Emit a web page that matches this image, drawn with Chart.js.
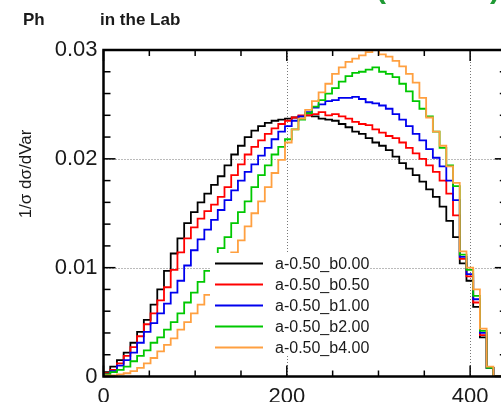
<!DOCTYPE html>
<html>
<head>
<meta charset="utf-8">
<script src="https://cdn.jsdelivr.net/npm/chart.js@4.4.1/dist/chart.umd.min.js"></script>
<style>
  html, body { margin: 0; padding: 0; background: #fff; overflow: hidden; }
  canvas { display: block; }
</style>
</head>
<body>
<canvas id="histChart" width="520" height="402"></canvas>
<script>
// histogram binning (60 bins over 0..440)
const binCount = 60;
const xMin = 0;
const xMax = 440;
const yMax = 0.03;

// tick settings
const xTickValues = [0, 200, 400];
const yTickValues = [0, 0.01, 0.02, 0.03];
const xMajorStep = 200;
const xMinorStep = 50;
const yMajorStep = 0.01;
const yMinorStep = 0.002;

const seriesLabels = ["a-0.50_b0.00", "a-0.50_b0.50", "a-0.50_b1.00", "a-0.50_b2.00", "a-0.50_b4.00"];
const seriesColors = ["#000000", "#ff0000", "#0000ee", "#00c800", "#ffa040"];

// bin contents
const b000 = [
  0.0001, 0.0004, 0.0009, 0.0015, 0.0022, 0.0031, 0.0041, 0.0052, 0.0066, 0.0080,
  0.0097, 0.0113, 0.0127, 0.0141, 0.0151, 0.0160, 0.0168, 0.0176, 0.0184, 0.0194,
  0.0204, 0.0212, 0.0220, 0.0226, 0.0230, 0.0233, 0.0235, 0.0236, 0.0237, 0.0238,
  0.0239, 0.0240, 0.0239, 0.0237, 0.0236, 0.0235, 0.0232, 0.0229, 0.0225, 0.0223,
  0.0219, 0.0215, 0.0212, 0.0208, 0.0202, 0.0196, 0.0191, 0.0185, 0.0179, 0.0172,
  0.0165, 0.0156, 0.0143, 0.0128, 0.0104, 0.0088, 0.0064, 0.0036, 0.0008, 0.0000
];
const b050 = [
  0.0001, 0.0003, 0.0006, 0.0012, 0.0019, 0.0027, 0.0037, 0.0048, 0.0058, 0.0070,
  0.0082, 0.0098, 0.0114, 0.0127, 0.0137, 0.0145, 0.0152, 0.0158, 0.0165, 0.0174,
  0.0185, 0.0195, 0.0204, 0.0211, 0.0217, 0.0223, 0.0228, 0.0232, 0.0235, 0.0238,
  0.0240, 0.0240, 0.0241, 0.0243, 0.0240, 0.0241, 0.0239, 0.0237, 0.0234, 0.0232,
  0.0231, 0.0227, 0.0224, 0.0221, 0.0219, 0.0215, 0.0210, 0.0205, 0.0200, 0.0194,
  0.0188, 0.0180, 0.0168, 0.0148, 0.0108, 0.0092, 0.0068, 0.0038, 0.0008, 0.0000
];
const b100 = [
  0.0000, 0.0002, 0.0005, 0.0010, 0.0015, 0.0022, 0.0031, 0.0041, 0.0049, 0.0058,
  0.0067, 0.0077, 0.0088, 0.0102, 0.0116, 0.0126, 0.0135, 0.0144, 0.0153, 0.0162,
  0.0171, 0.0180, 0.0188, 0.0195, 0.0203, 0.0210, 0.0218, 0.0225, 0.0230, 0.0235,
  0.0239, 0.0243, 0.0247, 0.0250, 0.0253, 0.0254, 0.0256, 0.0256, 0.0257, 0.0255,
  0.0252, 0.0251, 0.0249, 0.0246, 0.0241, 0.0236, 0.0230, 0.0223, 0.0217, 0.0209,
  0.0201, 0.0193, 0.0180, 0.0162, 0.0110, 0.0094, 0.0071, 0.0040, 0.0008, 0.0000
];
const b200 = [
  0.0000, 0.0002, 0.0004, 0.0006, 0.0009, 0.0014, 0.0019, 0.0024, 0.0031, 0.0036,
  0.0043, 0.0050, 0.0058, 0.0068, 0.0077, 0.0087, 0.0097, 0.0107, 0.0118, 0.0128,
  0.0141, 0.0151, 0.0161, 0.0174, 0.0185, 0.0194, 0.0204, 0.0211, 0.0218, 0.0227,
  0.0236, 0.0242, 0.0248, 0.0254, 0.0260, 0.0265, 0.0271, 0.0276, 0.0279, 0.0280,
  0.0282, 0.0284, 0.0280, 0.0278, 0.0275, 0.0269, 0.0262, 0.0253, 0.0246, 0.0239,
  0.0225, 0.0210, 0.0194, 0.0175, 0.0112, 0.0098, 0.0074, 0.0042, 0.0008, 0.0000
];
const b400 = [
  0.0000, 0.0001, 0.0001, 0.0002, 0.0003, 0.0005, 0.0008, 0.0012, 0.0017, 0.0023,
  0.0029, 0.0035, 0.0043, 0.0050, 0.0058, 0.0066, 0.0075, 0.0084, 0.0094, 0.0104,
  0.0114, 0.0125, 0.0138, 0.0150, 0.0161, 0.0174, 0.0187, 0.0199, 0.0215, 0.0227,
  0.0237, 0.0245, 0.0253, 0.0261, 0.0269, 0.0278, 0.0284, 0.0289, 0.0292, 0.0295,
  0.0298, 0.0300, 0.0296, 0.0294, 0.0290, 0.0285, 0.0278, 0.0270, 0.0256, 0.0238,
  0.0225, 0.0212, 0.0193, 0.0178, 0.0115, 0.0100, 0.0080, 0.0044, 0.0009, 0.0000
];
const seriesValues = [b000, b050, b100, b200, b400];

const FONT = "'Liberation Sans', Arial, Helvetica, sans-serif";
const TEXT = "#1a1a1a";

// turn bin contents into step points at the bin edges
function toSteps(values) {
  const w = (xMax - xMin) / binCount;
  const pts = values.map((v, i) => ({ x: xMin + i * w, y: v }));
  pts.push({ x: xMax, y: values[values.length - 1] });
  return pts;
}

// ROOT-like frame, inner ticks, dotted grid, legend box and titles
const rootStyle = {
  id: "rootStyle",
  beforeDatasetsDraw(chart) {
    const { ctx, chartArea: a, scales: { x, y } } = chart;
    ctx.save();
    ctx.strokeStyle = "#777";
    ctx.lineWidth = 1;
    ctx.setLineDash([1, 2]);
    xTickValues.forEach((v) => {
      if (v <= xMin) return;
      const px = Math.round(x.getPixelForValue(v)) + 0.5;
      ctx.beginPath(); ctx.moveTo(px, a.top); ctx.lineTo(px, a.bottom); ctx.stroke();
    });
    yTickValues.forEach((v) => {
      if (v <= 0 || v >= yMax) return;
      const py = Math.round(y.getPixelForValue(v)) + 0.5;
      ctx.beginPath(); ctx.moveTo(a.left, py); ctx.lineTo(a.right, py); ctx.stroke();
    });
    ctx.restore();
  },
  afterDatasetsDraw(chart) {
    const { ctx, chartArea: a, scales: { x, y } } = chart;
    ctx.save();

    // legend (white box over the curves)
    const boxL = 210, boxR = 369, boxT = 253, boxB = 356;
    ctx.fillStyle = "#fff";
    ctx.fillRect(boxL, boxT, boxR - boxL, boxB - boxT);
    ctx.font = "16px " + FONT;
    ctx.textBaseline = "middle";
    ctx.textAlign = "left";
    chart.data.datasets.forEach((ds, i) => {
      const ry = 263.5 + i * 21;
      ctx.strokeStyle = ds.borderColor;
      ctx.lineWidth = 1.8;
      ctx.beginPath(); ctx.moveTo(215, ry); ctx.lineTo(263, ry); ctx.stroke();
      ctx.fillStyle = TEXT;
      ctx.fillText(ds.label, 275, ry + 1);
    });

    // ticks on all four sides, pointing inward
    ctx.strokeStyle = "#000";
    ctx.lineWidth = 1.5;
    const nx = Math.round((xMax - xMin) / xMinorStep);
    for (let i = 0; i <= nx; i++) {
      const v = xMin + i * xMinorStep;
      const px = x.getPixelForValue(v);
      const len = (v % xMajorStep === 0) ? 11 : 6;
      ctx.beginPath(); ctx.moveTo(px, a.bottom); ctx.lineTo(px, a.bottom - len); ctx.stroke();
      ctx.beginPath(); ctx.moveTo(px, a.top); ctx.lineTo(px, a.top + len); ctx.stroke();
    }
    const ny = Math.round(yMax / yMinorStep);
    for (let i = 0; i <= ny; i++) {
      const py = y.getPixelForValue(i * yMinorStep);
      const len = (i % Math.round(yMajorStep / yMinorStep) === 0) ? 12 : 7;
      ctx.beginPath(); ctx.moveTo(a.left, py); ctx.lineTo(a.left + len, py); ctx.stroke();
      ctx.beginPath(); ctx.moveTo(a.right, py); ctx.lineTo(a.right - len, py); ctx.stroke();
    }

    // frame
    ctx.lineWidth = 2.5;
    ctx.strokeRect(a.left, a.top, a.right - a.left, a.bottom - a.top);
    ctx.restore();
  },
  afterDraw(chart) {
    const { ctx } = chart;
    ctx.save();
    ctx.fillStyle = TEXT;
    ctx.textBaseline = "alphabetic";
    ctx.textAlign = "left";
    ctx.font = "bold 17px " + FONT;
    ctx.fillText("Ph", 23, 25);
    ctx.fillText("in the Lab", 100, 25);

    // green brackets cut off at the top edge
    ctx.fillStyle = "#1f9a35";
    ctx.font = "bold 30px " + FONT;
    ctx.fillText("(", 376, -2);
    ctx.fillText(")", 490, -2);

    // y axis title
    ctx.fillStyle = TEXT;
    ctx.font = "17px " + FONT;
    ctx.translate(26, 174);
    ctx.rotate(-Math.PI / 2);
    ctx.textAlign = "center";
    ctx.textBaseline = "middle";
    ctx.fillText("1/\u03c3 d\u03c3/dVar", 0, 0);
    ctx.restore();
  }
};

const ctx = document.getElementById("histChart").getContext("2d");
new Chart(ctx, {
  type: "line",
  data: {
    datasets: seriesValues.map((vals, i) => ({
      label: seriesLabels[i],
      data: toSteps(vals),
      borderColor: seriesColors[i],
      borderWidth: 1.8,
      stepped: "after",
      pointRadius: 0,
      fill: false,
      order: seriesValues.length - i, // orange drawn last, on top
    })),
  },
  options: {
    responsive: false,
    animation: false,
    layout: { padding: { top: 50, right: 520 - 506.8, left: 0, bottom: 0 } },
    plugins: { legend: { display: false }, tooltip: { enabled: false } },
    scales: {
      x: {
        type: "linear",
        min: xMin,
        max: xMax,
        grid: { display: false, drawTicks: false },
        border: { display: false },
        afterBuildTicks(scale) { scale.ticks = xTickValues.map((v) => ({ value: v })); },
        ticks: {
          autoSkip: false,
          maxRotation: 0,
          padding: 7,
          color: TEXT,
          font: { family: FONT, size: 22 },
        },
        afterFit(scale) { scale.height = 25.5; },
      },
      y: {
        min: 0,
        max: yMax,
        grid: { display: false, drawTicks: false },
        border: { display: false },
        afterBuildTicks(scale) { scale.ticks = yTickValues.map((v) => ({ value: v })); },
        ticks: {
          padding: 6,
          color: TEXT,
          font: { family: FONT, size: 22 },
          callback: (v) => (v === 0 ? "0" : v.toFixed(2)),
        },
        afterFit(scale) { scale.width = 103.5; },
      },
    },
  },
  plugins: [rootStyle],
});
</script>
</body>
</html>
